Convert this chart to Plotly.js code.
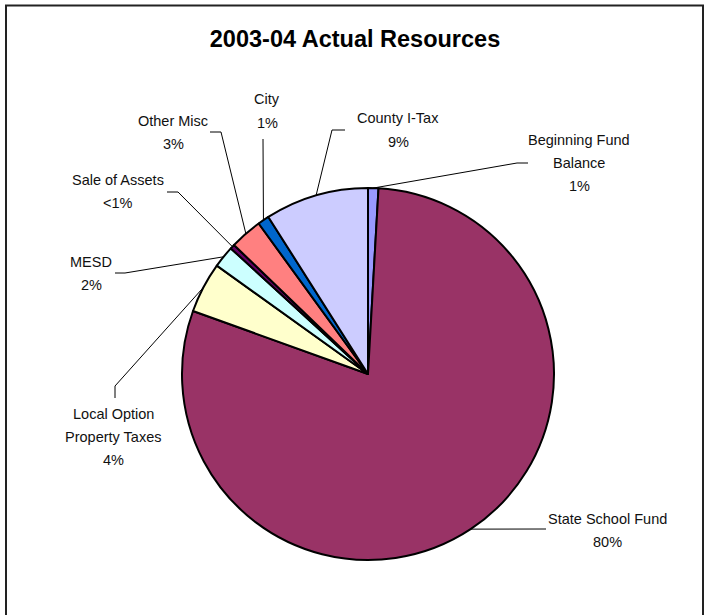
<!DOCTYPE html>
<html>
<head>
<meta charset="utf-8">
<script src="https://cdn.plot.ly/plotly-3.0.1.min.js"></script>
<style>html,body{margin:0;padding:0;background:#fff;}#chart{width:710px;height:615px;}</style>
</head>
<body>
<div id="chart"></div>
<script>
// ---- data ----
const categories = ["Beginning Fund Balance", "State School Fund", "Local Option Property Taxes", "MESD", "Sale of Assets", "Other Misc", "City", "County I-Tax"];
const values = [0.9, 79.6, 4.4, 1.9, 0.4, 2.8, 1.0, 9.0];
const labelLines = [["Beginning Fund","Balance","1%"], ["State School Fund","80%"], ["Local Option","Property Taxes","4%"], ["MESD","2%"], ["Sale of Assets","<1%"], ["Other Misc","3%"], ["City","1%"], ["County I-Tax","9%"]];
const colors = ["#9999FF", "#993366", "#FFFFCC", "#CCFFFF", "#660066", "#FF8080", "#0066CC", "#CCCCFF"];

// ---- layout constants (pixels) ----
const W = 710, H = 615;
const CX = 368, CY = 374, R = 186;
const LINE_H = 23;
const FONT = '"Liberation Sans", Arial, sans-serif';
// label centre positions and leader-line elbows (pixels)
const labelPos = [[579,163],[607,530],[113,437],[91,273],[118,192],[173,132],[267,111],[398,130]];
const elbows = [
  [[517,163],[528,163]],
  [[546,529]],
  [[115,386],[115,398]],
  [[125,273],[115,273]],
  [[178,192],[167,192]],
  [[221,132],[210,132]],
  [[263,139]],
  [[332,130],[345,130]]
];

const px = x => x / W;
const py = y => 1 - y / H;

const total = values.reduce((a,b)=>a+b,0);
let cum = 0;
const shapes = [];
const annotations = [];
values.forEach((v,i) => {
  const mid = (cum + v/2) / total * 2 * Math.PI;
  cum += v;
  const ex = CX + R * Math.sin(mid);
  const ey = CY - R * Math.cos(mid);
  let path = `M ${px(ex)} ${py(ey)}`;
  elbows[i].forEach(p => { path += ` L ${px(p[0])} ${py(p[1])}`; });
  shapes.push({type:'path', xref:'paper', yref:'paper', path:path, line:{color:'#000', width:1}});
  const lines = labelLines[i];
  lines.forEach((t,k) => {
    const yy = labelPos[i][1] + (k - (lines.length-1)/2) * LINE_H;
    annotations.push({
      xref:'paper', yref:'paper', x: px(labelPos[i][0]), y: py(yy),
      xanchor:'center', yanchor:'middle', showarrow:false, align:'center',
      text: t.replace('<','&lt;'), font:{family:FONT, size:14.5, color:'#111'}
    });
  });
});

// outer border
shapes.push({type:'rect', xref:'paper', yref:'paper', x0:px(6), x1:px(703), y0:-0.2, y1:py(5.5), line:{color:'#222', width:2}});

const trace = {
  type:'pie',
  labels: categories,
  values: values,
  sort:false,
  direction:'clockwise',
  rotation:0,
  textinfo:'none',
  hoverinfo:'label+percent',
  marker:{colors:colors, line:{color:'#000', width:2}},
  domain:{x:[px(CX-R), px(CX+R)], y:[py(CY+R), py(CY-R)]},
  showlegend:false
};

const layout = {
  width:W, height:H, autosize:false,
  margin:{l:0,r:0,t:0,b:0},
  paper_bgcolor:'#fff',
  title:{text:'<b>2003-04 Actual Resources</b>', x:px(355), y:py(39), xanchor:'center', yanchor:'middle', xref:'paper', yref:'paper',
    font:{family:FONT, size:23.5, color:'#000'}},
  showlegend:false,
  shapes:shapes,
  annotations:annotations
};

Plotly.newPlot('chart', [trace], layout, {displayModeBar:false, staticPlot:true});
</script>
</body>
</html>
